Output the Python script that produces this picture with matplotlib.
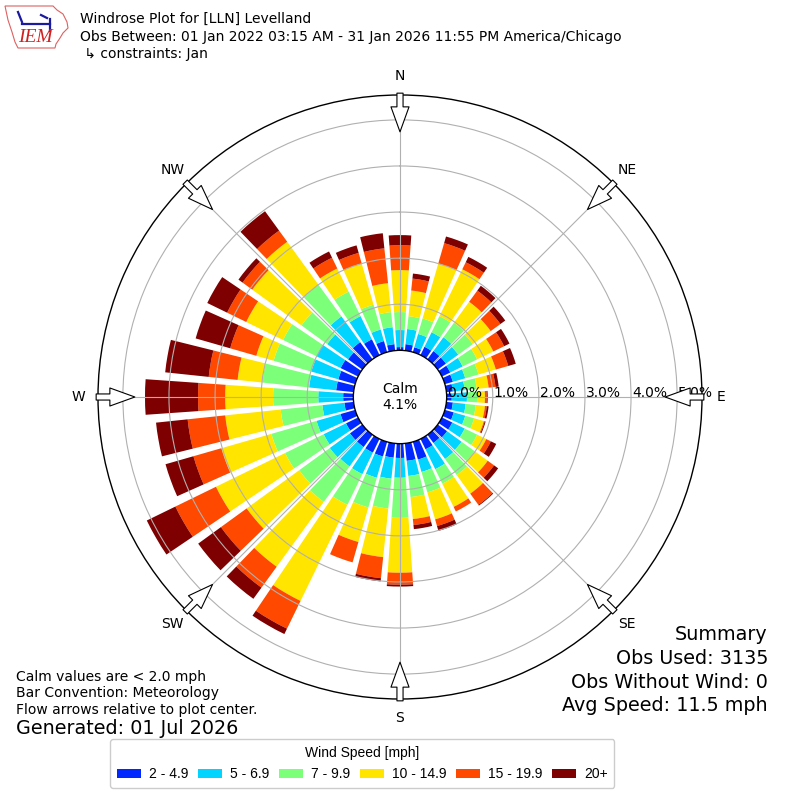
import numpy as np
import matplotlib
matplotlib.use("Agg")
import matplotlib.pyplot as plt
from matplotlib.patches import Patch, Polygon

# direction bins (degrees, meteorological "from")
directions = np.arange(0, 360, 10)

# frequency [%] per direction for each speed bin
speed_2_5 = [0.07, 0.14, 0.11, 0.20, 0.22, 0.22, 0.20, 0.18, 0.14, 0.11, 0.14, 0.20,
             0.25, 0.25, 0.22, 0.25, 0.40, 0.38, 0.31, 0.31, 0.33, 0.33, 0.33, 0.33,
             0.29, 0.33, 0.20, 0.22, 0.38, 0.38, 0.42, 0.38, 0.46, 0.38, 0.25, 0.14]
speed_5_7 = [0.37, 0.33, 0.30, 0.35, 0.37, 0.33, 0.30, 0.28, 0.26, 0.33, 0.28, 0.26,
             0.30, 0.39, 0.43, 0.48, 0.28, 0.33, 0.43, 0.46, 0.48, 0.52, 0.52, 0.54,
             0.54, 0.54, 0.48, 0.54, 0.59, 0.61, 0.59, 0.56, 0.69, 0.56, 0.26, 0.37]
speed_7_10 = [0.39, 0.28, 0.35, 0.39, 0.39, 0.39, 0.35, 0.30, 0.26, 0.22, 0.22, 0.20,
              0.30, 0.35, 0.43, 0.35, 0.46, 0.46, 0.87, 0.65, 0.67, 0.74, 0.95, 0.82,
              0.93, 1.02, 0.91, 0.98, 1.02, 0.85, 0.80, 0.69, 0.85, 0.59, 0.56, 0.33]
speed_10_15 = [0.91, 0.56, 1.24, 1.13, 0.56, 0.48, 0.39, 0.39, 0.26, 0.17, 0.20, 0.22,
               0.22, 0.35, 0.50, 0.56, 0.61, 0.48, 1.19, 1.06, 0.78, 2.32, 1.74, 1.41,
               1.67, 1.13, 1.21, 1.04, 0.54, 0.39, 0.89, 1.32, 1.15, 0.56, 0.93, 0.63]
speed_15_20 = [0.54, 0.26, 0.46, 0.17, 0.30, 0.26, 0.26, 0.28, 0.15, 0.04, 0.04, 0.02,
               0.11, 0.17, 0.30, 0.11, 0.15, 0.13, 0.26, 0.46, 0.46, 0.67, 0.56, 0.69,
               0.98, 0.63, 0.82, 0.59, 0.63, 0.59, 0.46, 0.26, 0.30, 0.26, 0.24, 0.76]
speed_20 = [0.22, 0.11, 0.15, 0.13, 0.13, 0.13, 0.13, 0.17, 0.07, 0.02, 0.04, 0.02,
            0.13, 0.11, 0.02, 0.00, 0.11, 0.09, 0.04, 0.07, 0.00, 0.13, 0.30, 0.61,
            0.69, 0.63, 0.69, 1.15, 0.95, 0.78, 0.48, 0.11, 0.52, 0.15, 0.17, 0.33]

speed_labels = ["2 - 4.9", "5 - 6.9", "7 - 9.9", "10 - 14.9", "15 - 19.9", "20+"]
speed_colors = ["#0028ff", "#00d4ff", "#7cff79", "#ffe500", "#ff4800", "#7f0000"]

ring_values = [0, 1, 2, 3, 4, 5]
compass_labels = ["N", "NE", "E", "SE", "S", "SW", "W", "NW"]
calm_pct = 4.1

title_lines = [
    "Windrose Plot for [LLN] Levelland",
    "Obs Between: 01 Jan 2022 03:15 AM - 31 Jan 2026 11:55 PM America/Chicago",
    " \u21b3 constraints: Jan",
]
notes = ["Calm values are < 2.0 mph", "Bar Convention: Meteorology",
         "Flow arrows relative to plot center."]
summary = ["Summary", "Obs Used: 3135", "Obs Without Wind: 0", "Avg Speed: 11.5 mph"]

fig = plt.figure(figsize=(8, 8), dpi=100)


def px(x, y):
    # figure pixel (from top-left) -> figure fraction
    return (x / 800.0, 1 - y / 800.0)


ax = fig.add_axes([0.1225, 0.12625, 0.755, 0.755], projection="polar")
ax.set_theta_zero_location("N")
ax.set_theta_direction(-1)
ax.set_rorigin(-1.013)
ax.set_ylim(0, 5.54)

# stacked bars
series = [speed_2_5, speed_5_7, speed_7_10, speed_10_15, speed_15_20, speed_20]
theta = np.radians(directions)
bottom = np.zeros(len(directions))
for vals, col in zip(series, speed_colors):
    vals = np.asarray(vals)
    ax.bar(theta, vals, width=np.radians(8), bottom=bottom, color=col,
           linewidth=0, align="center")
    bottom = bottom + vals

# grids
ax.set_yticks(ring_values[1:])
ax.set_yticklabels([])
ax.set_xticks(np.radians(np.arange(0, 360, 45)))
ax.set_xticklabels([])
ax.grid(True, color="#b0b0b0", linewidth=0.8)
ax.spines["polar"].set_linewidth(1.0)
ax.spines["inner"].set_linewidth(1.0)

for v in ring_values:
    ax.text(np.radians(90), v + 0.02, f"{v:.1f}%", ha="left", va="baseline",
            fontsize=10, zorder=10)

# compass labels and inward flow arrows
for i, lab in enumerate(compass_labels):
    th = np.radians(i * 45)
    ax.text(th, 5.96, lab, ha="center", va="center", fontsize=10)
    ax.annotate("", xy=(th, 4.74), xytext=(th, 5.58),
                arrowprops=dict(arrowstyle="simple,head_length=0.9,head_width=0.65,tail_width=0.22",
                                fc="white", ec="black", lw=0.8,
                                shrinkA=0, shrinkB=0, mutation_scale=20),
                annotation_clip=False, zorder=11)

ax.text(0.5, 0.5, f"Calm\n{calm_pct:.1f}%", transform=ax.transAxes,
        ha="center", va="center", fontsize=10, linespacing=1.25)

# header
for i, line in enumerate(title_lines):
    fig.text(0.1, 1 - (19 + 17.5 * i) / 800, line, ha="left", va="center", fontsize=10)

# rough IEM logo
outline = [(5, 6), (53, 6), (57, 10), (63, 14), (67, 22), (68, 28), (63, 33),
           (60, 38), (56, 44), (55, 48), (18, 48), (15, 42), (12, 32), (8, 20)]
fig.patches.append(Polygon([px(*p) for p in outline], closed=True,
                           transform=fig.transFigure, fill=False, ec="#e06060", lw=0.8))
for seg in [[(22, 24), (50, 24)], [(50, 19), (50, 31)], [(18, 12), (22, 22)],
            [(41, 15), (47, 18)]]:
    (x0, y0), (x1, y1) = px(*seg[0]), px(*seg[1])
    fig.add_artist(plt.Line2D([x0, x1], [y0, y1], color="#1a1aa0", lw=1.6,
                              transform=fig.transFigure))
fig.text(*px(35, 38), "IEM", color="#d02020", fontsize=14,
         fontfamily="Liberation Serif", fontstyle="italic", ha="center", va="center")

# notes bottom left
for i, line in enumerate(notes):
    fig.text(0.02, 1 - (677 + 16.5 * i) / 800, line, ha="left", va="center", fontsize=10)
fig.text(0.02, 1 - 729 / 800, "Generated: 01 Jul 2026", ha="left", va="center",
         fontsize=13.8)

# summary bottom right
for i, line in enumerate(summary):
    fig.text(0.96, 1 - (635 + 23.5 * i) / 800, line, ha="right", va="center",
             fontsize=13.8)

handles = [Patch(facecolor=c, edgecolor="none") for c in speed_colors]
fig.legend(handles, speed_labels, loc="lower center", bbox_to_anchor=(0.453, 0.00625),
           ncol=6, title="Wind Speed [mph]",
           prop={"family": "Liberation Sans", "size": 10},
           title_fontproperties={"family": "Liberation Sans", "size": 10},
           handlelength=1.73, handleheight=0.6, handletextpad=0.55,
           columnspacing=0.72, borderpad=0.5, framealpha=1)

fig.savefig("out.png", dpi=100)
